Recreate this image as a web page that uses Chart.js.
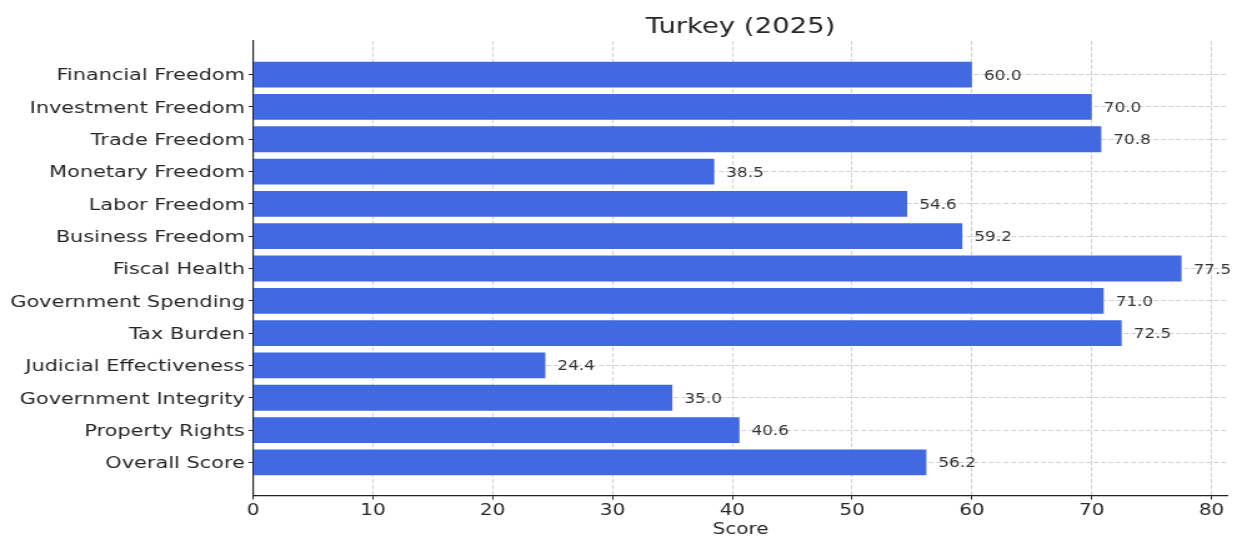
<!DOCTYPE html>
<html>
<head>
<meta charset="utf-8">
<script src="https://cdn.jsdelivr.net/npm/chart.js@4"></script>
<style>
  html, body { margin: 0; padding: 0; background: #fff; overflow: hidden; }
  /* the reference image is stretched sideways, so draw narrower and widen */
  #wrap { width: 990px; height: 537px; position: relative; transform: scaleX(1.2495); transform-origin: 0 0; }
</style>
</head>
<body>
<div id="wrap"><canvas id="chart"></canvas></div>
<script>
// top-to-bottom as shown in the picture
const categories = [
    'Financial Freedom', 'Investment Freedom', 'Trade Freedom', 'Monetary Freedom',
    'Labor Freedom', 'Business Freedom', 'Fiscal Health', 'Government Spending',
    'Tax Burden', 'Judicial Effectiveness', 'Government Integrity', 'Property Rights',
    'Overall Score'
];
const scores = [60.0, 70.0, 70.8, 38.5, 54.6, 59.2, 77.5, 71.0, 72.5, 24.4, 35.0, 40.6, 56.2];
const xTicks = [0, 10, 20, 30, 40, 50, 60, 70, 80];
const chartTitle = 'Turkey (2025)';

const FONT = "'DejaVu Sans', sans-serif";
const TEXT = '#262626';

const valueLabels = {
    id: 'valueLabels',
    afterDatasetsDraw(chart) {
        const ctx = chart.ctx;
        const xs = chart.scales.x, ys = chart.scales.y;
        ctx.save();
        ctx.font = '13.5px ' + FONT;
        ctx.fillStyle = '#333';
        ctx.textAlign = 'left';
        ctx.textBaseline = 'middle';
        scores.forEach((v, i) => {
            ctx.fillText(v.toFixed(1), xs.getPixelForValue(v + 1), ys.getPixelForValue(i) + 1.5);
        });
        ctx.restore();
    },
    afterDraw(chart) {
        const ctx = chart.ctx;
        const a = chart.chartArea;
        ctx.save();
        ctx.font = '22px ' + FONT;
        ctx.fillStyle = TEXT;
        ctx.textAlign = 'center';
        ctx.textBaseline = 'alphabetic';
        ctx.fillText(chartTitle, (a.left + a.right) / 2, 33);
        ctx.restore();
    }
};

const gridOpts = {
    color: '#d0d0d0',
    offset: false,
    tickColor: '#222',
    tickLength: 3.5
};

new Chart(document.getElementById('chart'), {
    type: 'bar',
    data: {
        datasets: [{
            data: scores.map((v, i) => ({ x: v, y: i })),
            backgroundColor: '#4169E1',
            borderWidth: 0,
            barPercentage: 0.8,
            categoryPercentage: 1
        }]
    },
    options: {
        indexAxis: 'y',
        responsive: true,
        maintainAspectRatio: false,
        animation: false,
        layout: { padding: { left: 0, right: 7.2, top: 41, bottom: 0 } },
        plugins: {
            legend: { display: false },
            tooltip: { enabled: false }
        },
        scales: {
            x: {
                type: 'linear',
                z: 1,
                min: 0,
                max: 81.375,
                afterBuildTicks: (s) => { s.ticks = xTicks.map(v => ({ value: v })); },
                afterFit: (s) => { s.height = 41; },
                grid: gridOpts,
                border: { display: true, color: '#222', width: 1.2, dash: [4, 2] },
                ticks: { color: TEXT, font: { family: FONT, size: 16 }, padding: 2 },
                title: {
                    display: true,
                    text: 'Score',
                    color: TEXT,
                    font: { family: FONT, size: 16 },
                    padding: { top: 0, bottom: -2.5 }
                }
            },
            y: {
                type: 'linear',
                z: 1,
                reverse: true,
                min: -1.04,
                max: 13.04,
                offset: false,
                afterBuildTicks: (s) => { s.ticks = categories.map((_, i) => ({ value: i })); },
                afterFit: (s) => { s.width = 202.5; },
                grid: gridOpts,
                border: { display: true, color: '#222', width: 1.2, dash: [4, 2] },
                ticks: {
                    autoSkip: false,
                    color: TEXT,
                    font: { family: FONT, size: 16.7 },
                    padding: 3,
                    labelOffset: 1.5,
                    callback: (v) => categories[v]
                }
            }
        }
    },
    plugins: [valueLabels]
});
</script>
</body>
</html>
